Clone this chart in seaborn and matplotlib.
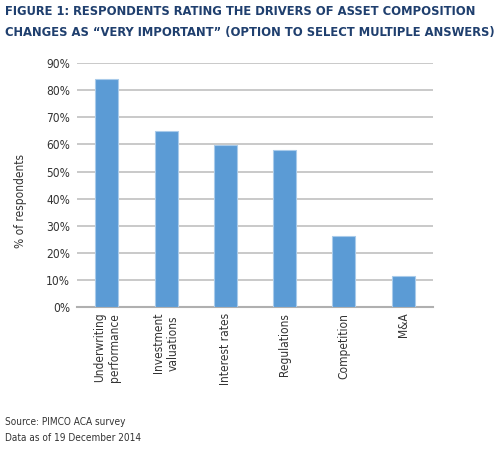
import matplotlib
matplotlib.use('Agg')
import matplotlib.pyplot as plt
import pandas as pd
import seaborn as sns
from matplotlib.ticker import PercentFormatter

drivers = ['Underwriting\nperformance', 'Investment\nvaluations', 'Interest rates',
           'Regulations', 'Competition', 'M&A']
share = [0.842, 0.65, 0.598, 0.58, 0.262, 0.116]

title = ('FIGURE 1: RESPONDENTS RATING THE DRIVERS OF ASSET COMPOSITION\n'
         'CHANGES AS \u201cVERY IMPORTANT\u201d (OPTION TO SELECT MULTIPLE ANSWERS)')
source = 'Source: PIMCO ACA survey\nData as of 19 December 2014'

sns.set_style('white')
plt.rcParams['font.family'] = ['DejaVu Sans']

df = pd.DataFrame({'driver': drivers, 'share': share})

fig = plt.figure(figsize=(5.01, 4.57), dpi=100)
ax = fig.add_axes([0.154, 0.328, 0.71, 0.534])
sns.barplot(data=df, x='driver', y='share', color='#5B9BD5', saturation=1,
            width=0.39, edgecolor='#A9CBEA', linewidth=0.8, ax=ax, zorder=3)

ax.set_ylim(0, 0.9)
ax.set_yticks([i / 10 for i in range(10)])
ax.yaxis.set_major_formatter(PercentFormatter(1.0, decimals=0))
ax.set_xlim(-0.5, len(drivers) - 0.5)
ax.grid(axis='y', color='#C0C0C0', linewidth=1.2, zorder=0)
for side in ['top', 'right', 'left']:
    ax.spines[side].set_visible(False)
ax.spines['bottom'].set_color('#B0B0B0')
ax.spines['bottom'].set_linewidth(1.5)
ax.tick_params(length=0, labelsize=8.6, colors='#333333', pad=5)
ax.tick_params(axis='x', pad=4)
for lab in ax.get_xticklabels():
    lab.set_rotation(90)
    lab.set_multialignment('center')
    lab.set_va('top')
    lab.set_ha('center')
    lab.set_fontstretch('condensed')
for lab in ax.get_yticklabels():
    lab.set_fontstretch('condensed')
ax.set_xlabel('')
ax.set_ylabel('% of respondents', fontsize=8.6, color='#333333',
              fontstretch='condensed')
ax.yaxis.set_label_coords(-0.14, 0.434)

fig.text(0.01, 0.988, title, ha='left', va='top', fontsize=9.3,
         fontweight='bold', fontstretch='condensed', color='#1F3F6E',
         linespacing=1.75)
fig.text(0.01, 0.087, source, ha='left', va='top', fontsize=7.2,
         fontstretch='condensed', color='#333333', linespacing=1.75)

fig.savefig('out.png', dpi=100)
